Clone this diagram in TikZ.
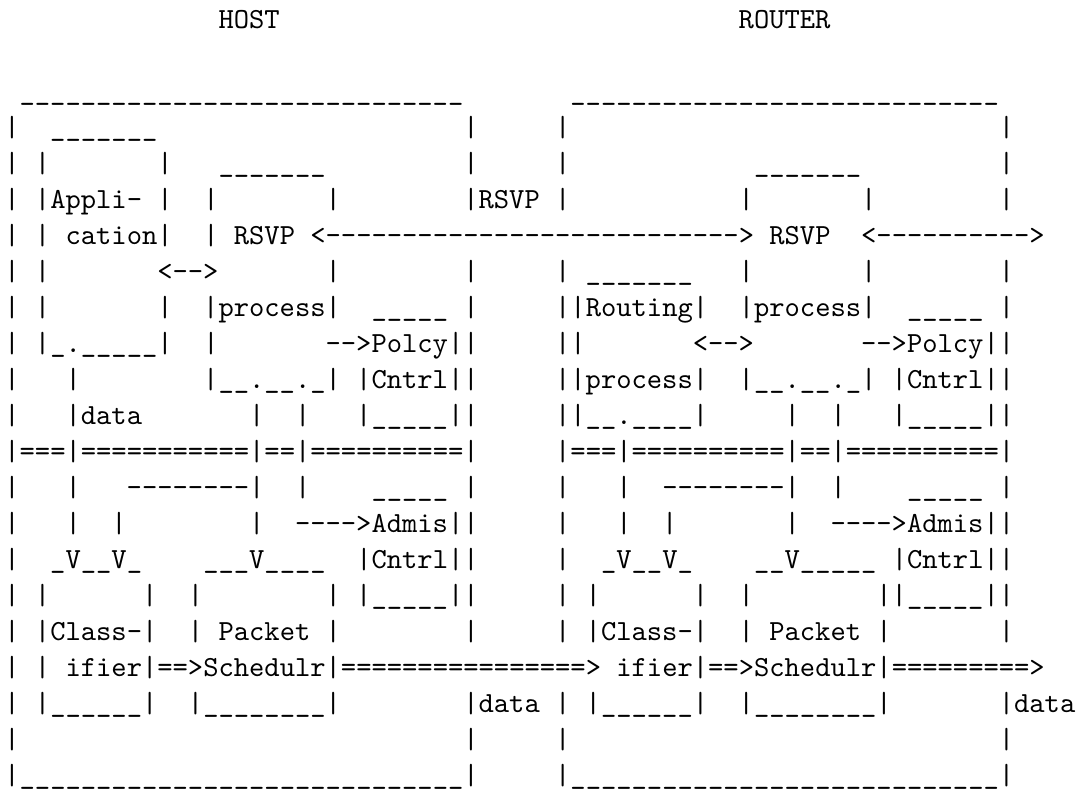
\documentclass[tikz,border=0pt]{standalone}
\ExplSyntaxOn
\cs_new:Npn \myrep #1#2 { \prg_replicate:nn {#1} {#2} }
\ExplSyntaxOff
\font\asciifont="[lmmono10-regular]" at 14.5714pt
\newdimen\cw
\cw=\fontcharwd\asciifont`M
\newcommand\gp[1]{\hspace*{#1\cw}}
\catcode`\_=12
\begin{document}
\begin{tikzpicture}[x=1pt,y=1pt,
  rowtxt/.style={anchor=base west, inner sep=0pt, outer sep=0pt, font=\asciifont}]
\fill[white] (0,0) rectangle (538,-394.5);
\useasboundingbox (0,0) rectangle (538,-394.5);
\node[rowtxt] (r0)  at (2.175,-14)  {\gp{14}HOST\gp{30}ROUTER};
\node[rowtxt] (r2)  at (2.175,-50)  {\gp{1}\myrep{29}{_}\gp{7}\myrep{28}{_}};
\node[rowtxt] (r3)  at (2.175,-68)  {|\gp{2}\myrep{7}{_}\gp{20}|\gp{5}|\gp{28}|};
\node[rowtxt] (r4)  at (2.175,-86)  {|\gp{1}|\gp{7}|\gp{3}\myrep{7}{_}\gp{9}|\gp{5}|\gp{12}\myrep{7}{_}\gp{9}|};
\node[rowtxt] (r5)  at (2.175,-104) {|\gp{1}|Appli-\gp{1}|\gp{2}|\gp{7}|\gp{8}|RSVP\gp{1}|\gp{11}|\gp{7}|\gp{8}|};
\node[rowtxt] (r6)  at (2.175,-122) {|\gp{1}|\gp{1}cation|\gp{2}|\gp{1}RSVP\gp{1}<\myrep{27}{-}>\gp{1}RSVP\gp{2}<\myrep{10}{-}>};
\node[rowtxt] (r7)  at (2.175,-140) {|\gp{1}|\gp{7}<-{}->\gp{7}|\gp{8}|\gp{5}|\gp{1}\myrep{7}{_}\gp{3}|\gp{7}|\gp{8}|};
\node[rowtxt] (r8)  at (2.175,-158) {|\gp{1}|\gp{7}|\gp{2}|process|\gp{2}\myrep{5}{_}\gp{1}|\gp{5}||Routing|\gp{2}|process|\gp{2}\myrep{5}{_}\gp{1}|};
\node[rowtxt] (r9)  at (2.175,-176) {|\gp{1}|_._____|\gp{2}|\gp{7}-{}->Polcy||\gp{5}||\gp{7}<-{}->\gp{7}-{}->Polcy||};
\node[rowtxt] (r10) at (2.175,-194) {|\gp{3}|\gp{8}|__.__._|\gp{1}|Cntrl||\gp{5}||process|\gp{2}|__.__._|\gp{1}|Cntrl||};
\node[rowtxt] (r11) at (2.175,-212) {|\gp{3}|data\gp{7}|\gp{2}|\gp{3}|_____||\gp{5}||__.____|\gp{5}|\gp{2}|\gp{3}|_____||};
\node[rowtxt] (r12) at (2.175,-230) {|===|\myrep{11}{=}|==|\myrep{10}{=}|\gp{5}|===|\myrep{10}{=}|==|\myrep{10}{=}|};
\node[rowtxt] (r13) at (2.175,-248) {|\gp{3}|\gp{3}\myrep{8}{-}|\gp{2}|\gp{4}\myrep{5}{_}\gp{1}|\gp{5}|\gp{3}|\gp{2}\myrep{8}{-}|\gp{2}|\gp{4}\myrep{5}{_}\gp{1}|};
\node[rowtxt] (r14) at (2.175,-266) {|\gp{3}|\gp{2}|\gp{8}|\gp{2}\myrep{4}{-}>Admis||\gp{5}|\gp{3}|\gp{2}|\gp{7}|\gp{2}\myrep{4}{-}>Admis||};
\node[rowtxt] (r15) at (2.175,-284) {|\gp{2}_V__V_\gp{4}___V____\gp{2}|Cntrl||\gp{5}|\gp{2}_V__V_\gp{4}__V_____\gp{1}|Cntrl||};
\node[rowtxt] (r16) at (2.175,-302) {|\gp{1}|\gp{6}|\gp{2}|\gp{8}|\gp{1}|_____||\gp{5}|\gp{1}|\gp{6}|\gp{2}|\gp{8}||_____||};
\node[rowtxt] (r17) at (2.175,-320) {|\gp{1}|Class-|\gp{2}|\gp{1}Packet\gp{1}|\gp{8}|\gp{5}|\gp{1}|Class-|\gp{2}|\gp{1}Packet\gp{1}|\gp{7}|};
\node[rowtxt] (r18) at (2.175,-338) {|\gp{1}|\gp{1}ifier|==>Schedulr|\myrep{16}{=}>\gp{1}ifier|==>Schedulr|\myrep{9}{=}>};
\node[rowtxt] (r19) at (2.175,-356) {|\gp{1}|\myrep{6}{_}|\gp{2}|\myrep{8}{_}|\gp{8}|data\gp{1}|\gp{1}|\myrep{6}{_}|\gp{2}|\myrep{8}{_}|\gp{7}|data};
\node[rowtxt] (r20) at (2.175,-374) {|\gp{29}|\gp{5}|\gp{28}|};
\node[rowtxt] (r21) at (2.175,-392) {|\myrep{29}{_}|\gp{5}|\myrep{28}{_}|};
\end{tikzpicture}
\end{document}
